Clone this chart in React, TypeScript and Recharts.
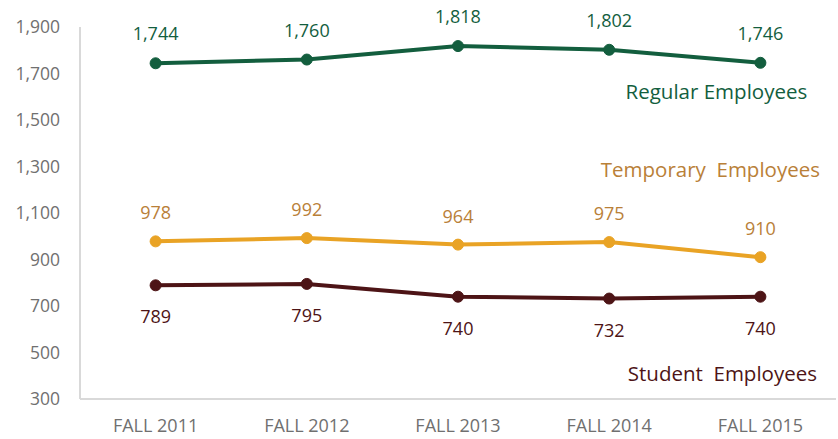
import { LineChart, Line, XAxis, YAxis, LabelList } from 'recharts';

const years = ['FALL 2011', 'FALL 2012', 'FALL 2013', 'FALL 2014', 'FALL 2015'];
const regular = [1744, 1760, 1818, 1802, 1746];
const temporary = [978, 992, 964, 975, 910];
const student = [789, 795, 740, 732, 740];
const yTicks = [300, 500, 700, 900, 1100, 1300, 1500, 1700, 1900];

const data = years.map((year, i) => ({
  year,
  regular: regular[i],
  temporary: temporary[i],
  student: student[i],
}));

const FONT = '"Open Sans", "Noto Sans", sans-serif';
const fmt = (v: number) => v.toLocaleString('en-US');

// series name placed next to the last point of the line
function seriesName(name: string, color: string, dx: number, dy: number) {
  return (props: any) => {
    const { x, y, index } = props;
    if (index !== years.length - 1) return null;
    return (
      <text
        x={x + dx}
        y={y + dy}
        textAnchor="middle"
        dominantBaseline="central"
        fill={color}
        fontSize={20.5}
        fontFamily={FONT}
      >
        {name}
      </text>
    );
  };
}

function valueLabel(color: string, dy: number) {
  return (props: any) => {
    const { x, y, value } = props;
    return (
      <text x={x} y={y + dy} textAnchor="middle" dominantBaseline="central" fill={color} fontSize={18} fontFamily={FONT}>
        {fmt(value)}
      </text>
    );
  };
}

export default function App() {
  return (
    <div style={{ position: 'absolute', left: 0, top: 0, width: 838, height: 439 }}>
      <LineChart width={838} height={439} data={data} margin={{ top: 27, right: 2, bottom: 0, left: 8 }}>
        <XAxis
          dataKey="year"
          scale="band"
          axisLine={{ stroke: '#d9d9d9', strokeWidth: 2 }}
          tickLine={false}
          tick={{ fill: '#707070', fontSize: 18, fontFamily: FONT }}
          tickMargin={14}
          height={40}
        />
        <YAxis
          domain={[300, 1900]}
          ticks={yTicks}
          interval={0}
          width={72}
          axisLine={{ stroke: '#d9d9d9', strokeWidth: 2 }}
          tickLine={false}
          tickFormatter={fmt}
          tick={{ fill: '#707070', fontSize: 17.5, fontFamily: FONT }}
          tickMargin={14}
        />
        <Line
          dataKey="regular"
          stroke="#135e3e"
          strokeWidth={4}
          dot={{ r: 5.5, fill: '#135e3e', stroke: '#135e3e', strokeWidth: 1 }}
          isAnimationActive={false}
        >
          <LabelList dataKey="regular" content={valueLabel('#135e3e', -30)} />
          <LabelList dataKey="regular" content={seriesName('Regular Employees', '#135e3e', -44, 28)} />
        </Line>
        <Line
          dataKey="temporary"
          stroke="#e9a325"
          strokeWidth={4}
          dot={{ r: 5.5, fill: '#e9a325', stroke: '#e9a325', strokeWidth: 1 }}
          isAnimationActive={false}
        >
          <LabelList dataKey="temporary" content={valueLabel('#b98038', -29)} />
          <LabelList dataKey="temporary" content={seriesName('Temporary\u00a0\u00a0Employees', '#b98038', -50, -88)} />
        </Line>
        <Line
          dataKey="student"
          stroke="#4d1416"
          strokeWidth={4}
          dot={{ r: 5.5, fill: '#4d1416', stroke: '#4d1416', strokeWidth: 1 }}
          isAnimationActive={false}
        >
          <LabelList dataKey="student" content={valueLabel('#4d1416', 31)} />
          <LabelList dataKey="student" content={seriesName('Student\u00a0\u00a0Employees', '#4d1416', -38, 76)} />
        </Line>
      </LineChart>
    </div>
  );
}
